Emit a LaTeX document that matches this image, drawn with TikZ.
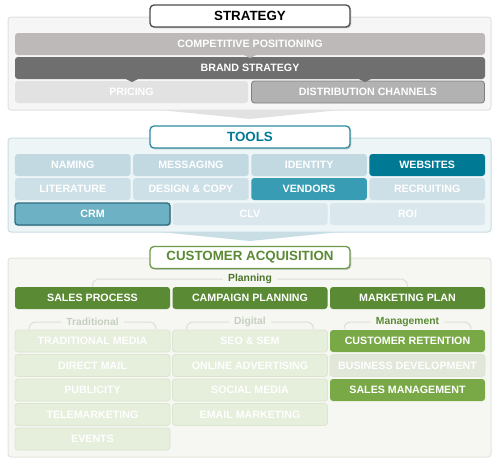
\documentclass[tikz,border=0pt]{standalone}
\usepackage{fontspec}
\newfontfamily\diagfont{Liberation Sans}
\usetikzlibrary{shadows}
\definecolor{stratpanel}{HTML}{F6F6F6}
\definecolor{stratedge}{HTML}{E0E0E0}
\definecolor{compgray}{HTML}{BDB9B8}
\definecolor{brandgray}{HTML}{6F6F6F}
\definecolor{pricegray}{HTML}{E2E2E2}
\definecolor{distgray}{HTML}{B2B2B2}
\definecolor{toolpanel}{HTML}{EEF5F7}
\definecolor{tooledge}{HTML}{C8DDE4}
\definecolor{toolone}{HTML}{C3D9E2}
\definecolor{tooltwo}{HTML}{CEE0E7}
\definecolor{toolthree}{HTML}{DAE8EE}
\definecolor{webteal}{HTML}{007A94}
\definecolor{vendteal}{HTML}{389CB4}
\definecolor{crmteal}{HTML}{6DB1C5}
\definecolor{crmedge}{HTML}{2D6E80}
\definecolor{tooltitle}{HTML}{2A8BA0}
\definecolor{capanel}{HTML}{F6F7F2}
\definecolor{caedge}{HTML}{E2E4DC}
\definecolor{plangreen}{HTML}{5A8A34}
\definecolor{mgmtgreen}{HTML}{79A946}
\definecolor{palegreen}{HTML}{E6EEDC}
\definecolor{paleedge}{HTML}{DCE5D2}
\definecolor{bizgray}{HTML}{E1E7D9}
\definecolor{catitle}{HTML}{6A9A4A}
\definecolor{mutedlabel}{HTML}{C6CFBF}
\definecolor{bracketgray}{HTML}{DDDED8}
\begin{document}
\begin{tikzpicture}[x=0.6pt,y=-0.6pt,
    tile/.style={rounded corners=1.8pt, minimum height=13.2pt, inner sep=0pt, text=white,
      font=\diagfont\bfseries\fontsize{6.4}{7}\selectfont},
    wide/.style={tile, minimum width=282pt},
    half/.style={tile, minimum width=139.8pt},
    quarter/.style={tile, minimum width=69.4pt},
    third/.style={tile, minimum width=93pt},
    pale/.style={third, fill=palegreen, draw=paleedge, line width=0.5pt},
    heading/.style={draw, fill=white, rounded corners=2.4pt, minimum width=120pt,
      minimum height=13.2pt, line width=0.8pt, inner sep=0pt,
      font=\diagfont\bfseries\fontsize{8}{9}\selectfont,
      drop shadow={shadow xshift=0.8pt, shadow yshift=-0.8pt, opacity=0.35}},
    panel/.style={rounded corners=1.8pt, line width=0.6pt},
    sublabel/.style={inner sep=3pt, font=\diagfont\bfseries\fontsize{6.2}{7}\selectfont},
    bracket/.style={draw=bracketgray, line width=0.6pt, rounded corners=4pt}]
    \useasboundingbox (0,0) rectangle (500,466);

    \draw [panel, draw=stratedge, fill=stratpanel] (8,17) rectangle (491,110);
    \fill [pricegray] (160,110) -- (250,119) -- (340,110) -- cycle;
    \node [wide, fill=compgray] (comp) at (250,44) {COMPETITIVE POSITIONING};
    \node [wide, fill=brandgray] (brand) at (250,68) {BRAND STRATEGY};
    \node [half, fill=pricegray] (pricing) at (131.5,92) {PRICING};
    \node [half, fill=distgray, draw=gray, line width=0.5pt] (distrib) at (368,92) {DISTRIBUTION CHANNELS};
    \fill [compgray] (244,55) -- (250,58) -- (256,55) -- cycle;
    \fill [brandgray] (126,79) -- (132,82) -- (138,79) -- cycle;
    \fill [brandgray] (359,79) -- (365,82) -- (371,79) -- cycle;
    \node [heading, draw=black!70, text=black] (strategy) at (250,16) {STRATEGY};

    \draw [panel, draw=tooledge, fill=toolpanel] (8,138) rectangle (491,232);
    \fill [tooledge] (160,232) -- (250,241) -- (340,232) -- cycle;
    \node [quarter, fill=toolone] (naming) at (72.8,165) {NAMING};
    \node [quarter, fill=toolone] (messaging) at (190.9,165) {MESSAGING};
    \node [quarter, fill=toolone] (identity) at (309.1,165) {IDENTITY};
    \node [quarter, fill=webteal] (websites) at (427.2,165) {WEBSITES};
    \node [quarter, fill=tooltwo] (literature) at (72.8,189) {LITERATURE};
    \node [quarter, fill=tooltwo] (design) at (190.9,189) {DESIGN \& COPY};
    \node [quarter, fill=vendteal] (vendors) at (309.1,189) {VENDORS};
    \node [quarter, fill=tooltwo] (recruiting) at (427.2,189) {RECRUITING};
    \node [third, fill=toolthree] (clv) at (250,214) {CLV};
    \node [third, fill=toolthree] (roi) at (407.5,214) {ROI};
    \node [third, fill=crmteal, draw=crmedge, line width=0.8pt,
      drop shadow={shadow xshift=0.6pt, shadow yshift=-0.6pt, opacity=0.4}] (crm) at (92.5,214) {CRM};
    \node [heading, draw=tooltitle, text=webteal] (tools) at (250,137) {TOOLS};

    \draw [panel, draw=caedge, fill=capanel] (8,258) rectangle (491,457);
    \node [sublabel, text=plangreen!85!black] (planning) at (250,279) {Planning};
    \draw [bracket] (92.5,287) |- (planning.west);
    \draw [bracket] (407.5,287) |- (planning.east);
    \node [third, fill=plangreen] (salesproc) at (92.5,298) {SALES PROCESS};
    \node [third, fill=plangreen] (campaign) at (250,298) {CAMPAIGN PLANNING};
    \node [third, fill=plangreen] (mktplan) at (407.5,298) {MARKETING PLAN};

    \node [sublabel, text=mutedlabel] (traditional) at (92.5,322) {Traditional};
    \draw [bracket] (29,329) |- (traditional.west);
    \draw [bracket] (156,329) |- (traditional.east);
    \node [sublabel, text=mutedlabel] (digital) at (250,322) {Digital};
    \draw [bracket] (186.5,329) |- (digital.west);
    \draw [bracket] (313.5,329) |- (digital.east);
    \node [sublabel, text=plangreen] (management) at (407.5,322) {Management};
    \draw [bracket] (344,329) |- (management.west);
    \draw [bracket] (471,329) |- (management.east);

    \node [pale] (tradmedia) at (92.5,341) {TRADITIONAL MEDIA};
    \node [pale] (directmail) at (92.5,365.5) {DIRECT MAIL};
    \node [pale] (publicity) at (92.5,390) {PUBLICITY};
    \node [pale] (telemkt) at (92.5,414.5) {TELEMARKETING};
    \node [pale] (events) at (92.5,439) {EVENTS};
    \node [pale] (seo) at (250,341) {SEO \& SEM};
    \node [pale] (onlineadv) at (250,365.5) {ONLINE ADVERTISING};
    \node [pale] (social) at (250,390) {SOCIAL MEDIA};
    \node [pale] (email) at (250,414.5) {EMAIL MARKETING};
    \node [third, fill=mgmtgreen] (retention) at (407.5,341) {CUSTOMER RETENTION};
    \node [pale, fill=bizgray] (bizdev) at (407.5,365.5) {BUSINESS DEVELOPMENT};
    \node [third, fill=mgmtgreen] (salesmgmt) at (407.5,390) {SALES MANAGEMENT};
    \node [heading, draw=catitle, text=plangreen] (acquisition) at (250,257.5) {CUSTOMER ACQUISITION};
\end{tikzpicture}
\end{document}
